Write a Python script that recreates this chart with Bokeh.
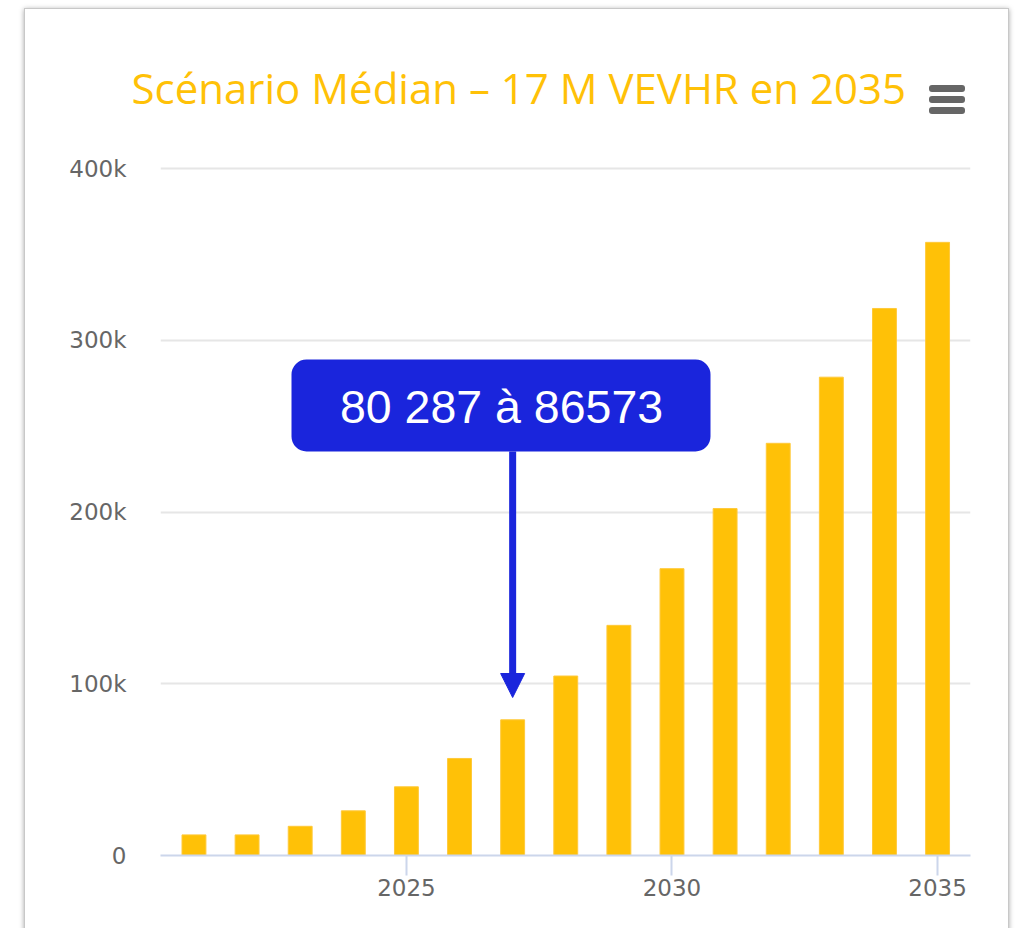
from bokeh.plotting import figure
from bokeh.models import (Range1d, FixedTicker, BoxAnnotation, Label, Arrow,
                          NormalHead, CustomJSTickFormatter, Title,
                          InlineStyleSheet)
from bokeh.embed import file_html
from bokeh.resources import INLINE

# ---- data ----
years = [2021, 2022, 2023, 2024, 2025, 2026, 2027, 2028, 2029, 2030,
         2031, 2032, 2033, 2034, 2035]
values = [12000, 12000, 17000, 26000, 40000, 56500, 79000, 104500, 134000,
          167000, 202000, 240000, 278500, 318500, 357000]
y_ticks = [0, 100000, 200000, 300000, 400000]
x_ticks = [2025, 2030, 2035]
title_text = "Scénario Médian – 17 M VEVHR en 2035"
callout_text = "80 287 à 86573"
callout_year = 2027

W, H = 1018, 928
FL, FR, FT, FB = 160, 970, 166, 855   # frame edges in pixels
X0, X1 = 2020.37, 2035.62
Y0 = 0
Y1 = 400000 * (FB - FT) / (FB - 168)


def px_x(px):
    return X0 + (px - FL) * (X1 - X0) / (FR - FL)


def px_y(py):
    return Y0 + (FB - py) * (Y1 - Y0) / (FB - FT)


# card frame and export-menu icon drawn with CSS (outside the plot frame)
card_css = InlineStyleSheet(css="""
:host { position: relative; }
:host::before {
  content: "";
  position: absolute;
  left: 24px; top: 8px; width: 985px; height: 945px;
  box-sizing: border-box;
  border: 1px solid #c8c8c8;
  box-shadow: 0px 1px 5px rgba(0,0,0,0.35);
  pointer-events: none;
  z-index: 5;
}
:host::after {
  content: "";
  position: absolute;
  left: 929px; top: 85px; width: 36px; height: 6.5px;
  background: #666666;
  border-radius: 3px;
  box-shadow: 0 11px 0 #666666, 0 22px 0 #666666;
  pointer-events: none;
  z-index: 6;
}
""")

p = figure(width=W, height=H, output_backend="svg", toolbar_location=None,
           x_range=Range1d(X0, X1), y_range=Range1d(Y0, Y1),
           min_border_left=FL, min_border_right=W - FR,
           min_border_top=FT, min_border_bottom=H - FB)
p.stylesheets = [card_css]
p.outline_line_color = None
p.background_fill_color = "white"
p.border_fill_color = "white"

# title
p.add_layout(Title(text=title_text, align="left", offset=-29, standoff=101,
                   text_font="Open Sans", text_font_size="42px",
                   text_font_style="normal", text_color="#FFC107"), "above")

# bars
p.vbar(x=years, top=values, width=0.45, bottom=0,
       fill_color="#FFC107", line_color="#FFC93A", line_width=1)

# grid
p.xgrid.grid_line_color = None
p.ygrid.grid_line_color = "#e6e6e6"
p.ygrid.grid_line_width = 2
p.ygrid.ticker = FixedTicker(ticks=y_ticks)

# y axis
p.yaxis.ticker = FixedTicker(ticks=y_ticks)
p.yaxis.axis_line_color = None
p.yaxis.major_tick_line_color = None
p.yaxis.minor_tick_line_color = None
p.yaxis.major_tick_out = 0
p.yaxis.major_label_standoff = 34
p.yaxis.major_label_text_font = "DejaVu Sans"
p.yaxis.major_label_text_font_size = "23px"
p.yaxis.major_label_text_color = "#666666"
p.yaxis.formatter = CustomJSTickFormatter(
    code="return tick == 0 ? '0' : (tick/1000) + 'k';")

# x axis
p.xaxis.ticker = FixedTicker(ticks=x_ticks)
p.xaxis.axis_line_color = "#ccd6eb"
p.xaxis.axis_line_width = 2
p.xaxis.major_tick_line_color = "#ccd6eb"
p.xaxis.major_tick_line_width = 2
p.xaxis.major_tick_in = 0
p.xaxis.major_tick_out = 20
p.xaxis.minor_tick_line_color = None
p.xaxis.major_label_standoff = 3
p.xaxis.major_label_text_font = "DejaVu Sans"
p.xaxis.major_label_text_font_size = "23px"
p.xaxis.major_label_text_color = "#666666"

# callout box
p.add_layout(BoxAnnotation(left=px_x(291), right=px_x(710),
                           top=px_y(359), bottom=px_y(451),
                           fill_color="#1A25DC", fill_alpha=1,
                           line_color=None, border_radius=15))
p.add_layout(Label(x=px_x(501), y=px_y(406), text=callout_text,
                   text_align="center", text_baseline="middle",
                   text_font="Liberation Sans", text_font_size="46.5px",
                   text_color="white"))

# arrow
p.add_layout(Arrow(x_start=callout_year, y_start=px_y(451),
                   x_end=callout_year, y_end=px_y(697),
                   line_color="#1A25DC", line_width=7,
                   end=NormalHead(size=24, fill_color="#1A25DC",
                                  line_color="#1A25DC", line_width=1)))

open("out.html", "w").write(file_html(p, INLINE))
